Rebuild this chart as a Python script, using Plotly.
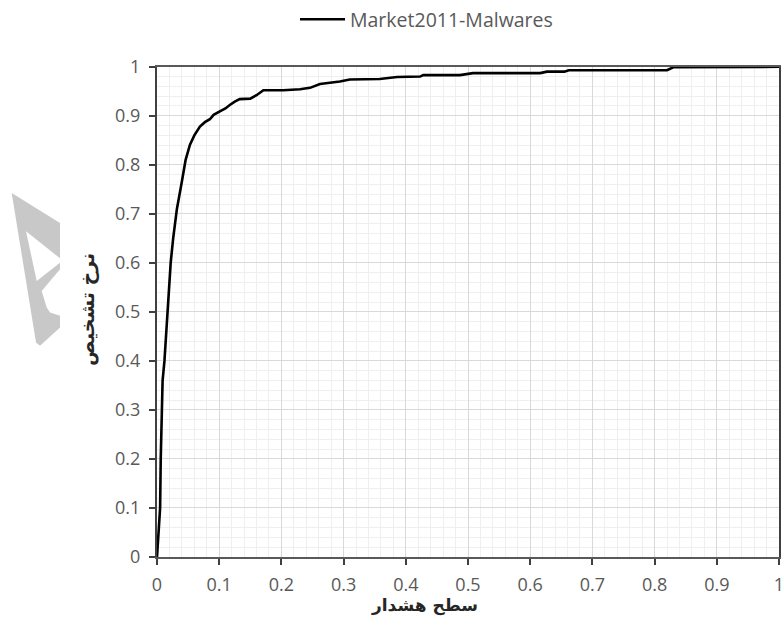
import plotly.graph_objects as go

# ---- data ----
series_name = "Market2011-Malwares"
false_alarm = [0, 0.003, 0.005, 0.006, 0.008, 0.009, 0.012, 0.017, 0.022, 0.026,
               0.032, 0.040, 0.046, 0.053, 0.060, 0.069, 0.077, 0.085, 0.091, 0.101,
               0.110, 0.117, 0.125, 0.133, 0.150, 0.160, 0.171, 0.203, 0.230, 0.246,
               0.262, 0.294, 0.310, 0.358, 0.386, 0.423, 0.428, 0.487, 0.508, 0.616,
               0.627, 0.655, 0.662, 0.820, 0.830, 1.0]
detection = [0, 0.05, 0.10, 0.20, 0.30, 0.36, 0.40, 0.50, 0.60, 0.65,
             0.71, 0.766, 0.81, 0.841, 0.86, 0.878, 0.887, 0.893, 0.902, 0.909,
             0.915, 0.922, 0.929, 0.934, 0.935, 0.942, 0.952, 0.952, 0.954, 0.957,
             0.965, 0.970, 0.974, 0.975, 0.979, 0.980, 0.983, 0.983, 0.987, 0.987,
             0.990, 0.990, 0.993, 0.993, 0.999, 1.0]
x_title = "سطح هشدار"
y_title = "نرخ تشخیص"

W, H = 784, 641
L, R, T, B = 157, 5, 0, 84
PLOT_TOP = 65
pw, ph = W - L - R, H - T - B

def px(x):
    return (x - L) / pw

def py(y):
    return (H - B - y) / ph

fig = go.Figure()
fig.add_trace(go.Scatter(x=false_alarm, y=detection, mode="lines", name=series_name,
                         line=dict(color="black", width=2.6), showlegend=True))

tickfont = dict(family="Open Sans, Noto Sans, sans-serif", size=18, color="#595959")
common = dict(range=[0, 1], dtick=0.1, tick0=0, showgrid=True, gridcolor="#d9d9d9",
              gridwidth=1, minor=dict(dtick=0.02, showgrid=True, gridcolor="#efefef",
                                      gridwidth=1),
              showline=True, linewidth=2, mirror=True,
              ticks="outside", ticklen=6, tickcolor="#404040", tickwidth=1.5,
              zeroline=False, tickfont=tickfont, automargin=False,
              ticklabeloverflow="allow")
fig.update_xaxes(linecolor="#595959", ticklabelstandoff=4, **common)
fig.update_yaxes(linecolor="#404040", ticklabelstandoff=5,
                 domain=[0, py(PLOT_TOP)], **common)

# watermark (decorative grey logo at the left edge)
wm = [(11.7, 191.7), (60, 221.7), (60, 257.3), (26, 230), (36.7, 280), (60, 261.7),
      (60, 268.3), (41.7, 290), (46.7, 306.7), (50, 311.7), (60, 315), (60, 326.7),
      (40, 345), (36, 341.7)]
path = "M " + " L ".join(f"{px(a):.4f},{py(b):.4f}" for a, b in wm) + " Z"
fig.add_shape(type="path", path=path, xref="paper", yref="paper",
              fillcolor="#c8c8c8", line=dict(width=0), layer="below")

fig.add_annotation(text=f"<b>{y_title}</b>", xref="paper", yref="paper",
                   x=px(88), y=py(309), xanchor="center", yanchor="middle",
                   textangle=-90, showarrow=False,
                   font=dict(family="DejaVu Sans, sans-serif", size=19, color="#262626"))
fig.add_annotation(text=f"<b>{x_title}</b>", xref="paper", yref="paper",
                   x=px(424), y=py(606), xanchor="center", yanchor="middle",
                   showarrow=False,
                   font=dict(family="DejaVu Sans, sans-serif", size=17, color="#262626"))

fig.update_layout(width=W, height=H, margin=dict(l=L, r=R, t=T, b=B),
                  plot_bgcolor="white", paper_bgcolor="white",
                  legend=dict(orientation="h", x=px(295), y=py(-2), xanchor="left",
                              yanchor="top", itemwidth=45,
                              font=dict(family="Open Sans, sans-serif",
                                        size=19.5, color="#595959"),
                              bgcolor="rgba(0,0,0,0)"))
fig.write_html("out.html", config={"displayModeBar": False},
               post_script="document.body.style.margin='0';"
                           "document.body.style.overflow='hidden';")
